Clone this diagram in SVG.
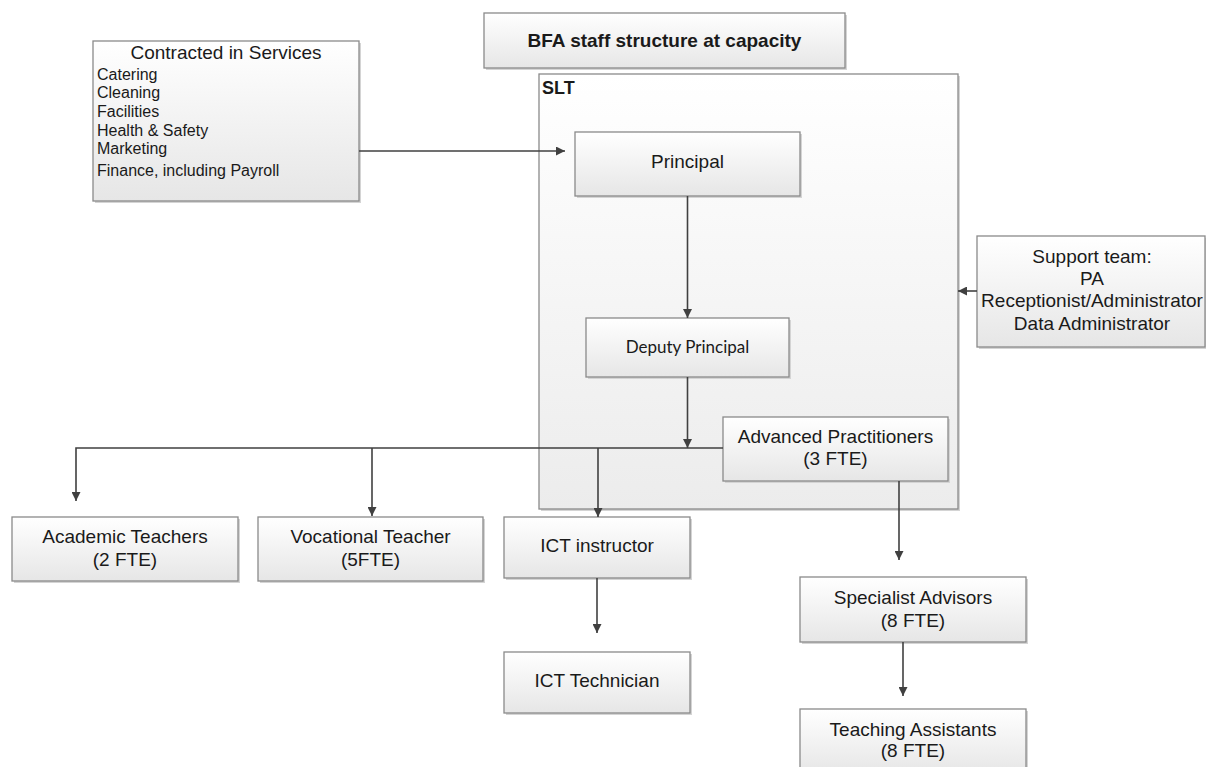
<svg xmlns="http://www.w3.org/2000/svg" width="1206" height="767" viewBox="0 0 1206 767">
<defs>
<linearGradient id="g" x1="0" y1="0" x2="0" y2="1">
<stop offset="0" stop-color="#ffffff"/>
<stop offset="1" stop-color="#e6e6e6"/>
</linearGradient>
<linearGradient id="gs" x1="0" y1="0" x2="0" y2="1">
<stop offset="0" stop-color="#ffffff"/>
<stop offset="1" stop-color="#ececec"/>
</linearGradient>
<marker id="ah" viewBox="0 0 10 10" refX="10" refY="5" markerWidth="9" markerHeight="9" markerUnits="userSpaceOnUse" orient="auto">
<path d="M0,0 L10,5 L0,10 Z" fill="#404040"/>
</marker>
</defs>
<style>
.box{fill:url(#g);stroke:#8a8a8a;stroke-width:1.3}
.sh{fill:#d4d4d4}
.t{font-family:"Liberation Sans",Arial,sans-serif;font-size:19px;fill:#1a1a1a;text-anchor:middle}
.l{font-family:"Liberation Sans",Arial,sans-serif;font-size:16px;fill:#1a1a1a}
.c{fill:none;stroke:#404040;stroke-width:1.6}
</style>
<rect width="1206" height="767" fill="#ffffff"/>

<g id="slt">
<rect class="sh" x="541" y="76" width="419" height="435"/>
<rect x="539" y="74" width="419" height="435" fill="url(#gs)" stroke="#8a8a8a" stroke-width="1.3"/>
<text x="542" y="94" font-family="Liberation Sans,Arial,sans-serif" font-size="18" font-weight="bold" fill="#1a1a1a">SLT</text>
</g>

<g id="title">
<rect class="sh" x="486" y="15" width="361" height="55"/>
<rect class="box" x="484" y="13" width="361" height="55"/>
<text class="t" x="664.5" y="47" font-weight="bold">BFA staff structure at capacity</text>
</g>

<g id="contracted">
<rect class="sh" x="95" y="43" width="266" height="160"/>
<rect class="box" x="93" y="41" width="266" height="160"/>
<text class="t" x="226" y="59">Contracted in Services</text>
<text class="l" x="97" y="80">Catering</text>
<text class="l" x="97" y="98">Cleaning</text>
<text class="l" x="97" y="117">Facilities</text>
<text class="l" x="97" y="136">Health &amp; Safety</text>
<text class="l" x="97" y="154">Marketing</text>
<text class="l" x="97" y="176">Finance, including Payroll</text>
</g>

<g id="principal">
<rect class="sh" x="577" y="134" width="225" height="64"/>
<rect class="box" x="575" y="132" width="225" height="64"/>
<text class="t" x="687.5" y="168">Principal</text>
</g>

<g id="deputy">
<rect class="sh" x="588" y="320" width="203" height="59"/>
<rect class="box" x="586" y="318" width="203" height="59"/>
<text x="687.5" y="353" font-family="Lato,'Open Sans',sans-serif" font-size="17" fill="#1a1a1a" text-anchor="middle">Deputy Principal</text>
</g>

<g id="support">
<rect class="sh" x="979" y="238" width="228" height="111"/>
<rect class="box" x="977" y="236" width="228" height="111"/>
<text class="t" x="1092" y="263">Support team:</text>
<text class="t" x="1092" y="285">PA</text>
<text class="t" x="1092" y="307">Receptionist/Administrator</text>
<text class="t" x="1092" y="330">Data Administrator</text>
</g>

<g id="advanced">
<rect class="sh" x="725" y="419" width="225" height="64"/>
<rect class="box" x="723" y="417" width="225" height="64"/>
<text class="t" x="835.5" y="443">Advanced Practitioners</text>
<text class="t" x="835.5" y="465">(3 FTE)</text>
</g>

<g id="academic">
<rect class="sh" x="14" y="519" width="226" height="64"/>
<rect class="box" x="12" y="517" width="226" height="64"/>
<text class="t" x="125" y="543">Academic Teachers</text>
<text class="t" x="125" y="566">(2 FTE)</text>
</g>

<g id="vocational">
<rect class="sh" x="260" y="519" width="225" height="64"/>
<rect class="box" x="258" y="517" width="225" height="64"/>
<text class="t" x="370.5" y="543">Vocational Teacher</text>
<text class="t" x="370.5" y="566">(5FTE)</text>
</g>

<g id="ict-instructor">
<rect class="sh" x="506" y="519" width="186" height="61"/>
<rect class="box" x="504" y="517" width="186" height="61"/>
<text class="t" x="597" y="552">ICT instructor</text>
</g>

<g id="ict-technician">
<rect class="sh" x="506" y="654" width="186" height="61"/>
<rect class="box" x="504" y="652" width="186" height="61"/>
<text class="t" x="597" y="687">ICT Technician</text>
</g>

<g id="specialist">
<rect class="sh" x="802" y="579" width="226" height="65"/>
<rect class="box" x="800" y="577" width="226" height="65"/>
<text class="t" x="913" y="604">Specialist Advisors</text>
<text class="t" x="913" y="627">(8 FTE)</text>
</g>

<g id="teaching">
<rect class="sh" x="802" y="711" width="226" height="65"/>
<rect class="box" x="800" y="709" width="226" height="65"/>
<text class="t" x="913" y="736">Teaching Assistants</text>
<text class="t" x="913" y="757">(8 FTE)</text>
</g>

<g id="connectors">
<path class="c" d="M359,151 H565" marker-end="url(#ah)"/>
<path class="c" d="M687.5,196 V318" marker-end="url(#ah)"/>
<path class="c" d="M687.5,377 V448" marker-end="url(#ah)"/>
<path class="c" d="M723,448 H76 V501" marker-end="url(#ah)"/>
<path class="c" d="M372,448 V516" marker-end="url(#ah)"/>
<path class="c" d="M598,448 V517" marker-end="url(#ah)"/>
<path class="c" d="M899,481 V560" marker-end="url(#ah)"/>
<path class="c" d="M597,578 V633" marker-end="url(#ah)"/>
<path class="c" d="M903,642 V696" marker-end="url(#ah)"/>
<path class="c" d="M977,291 H958" marker-end="url(#ah)"/>
</g>
</svg>
